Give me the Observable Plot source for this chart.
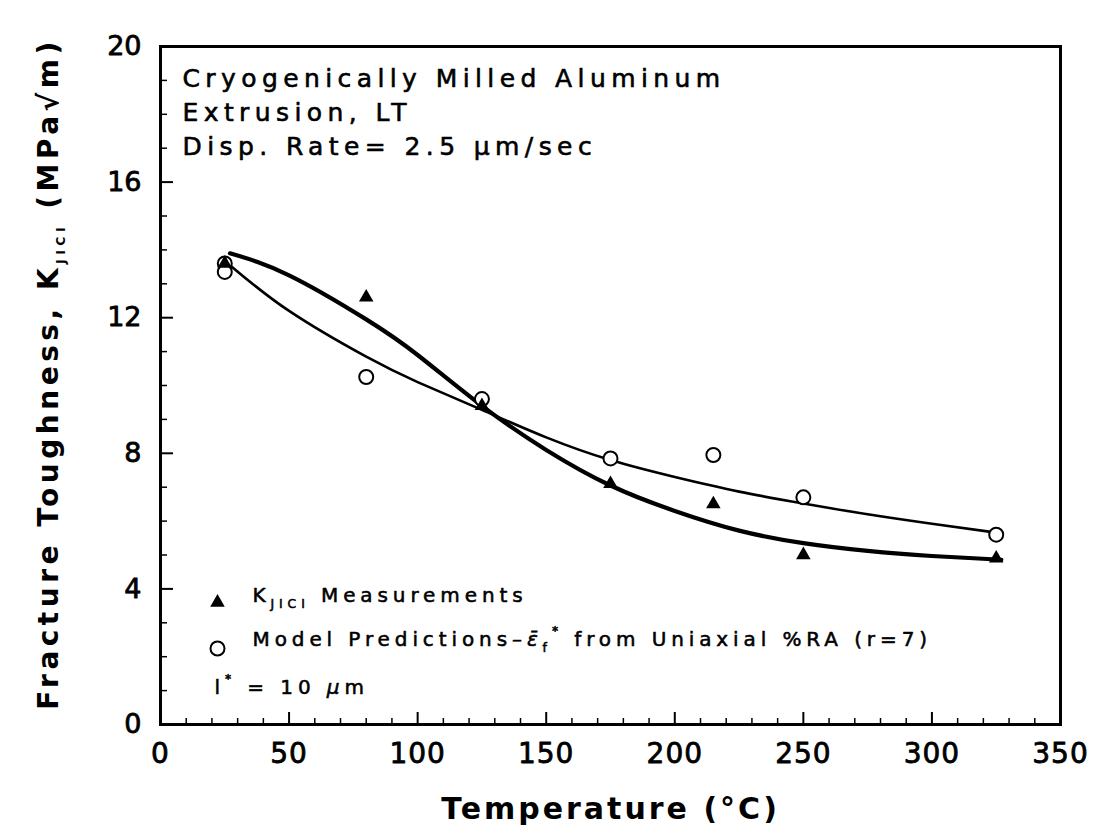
<!DOCTYPE html>
<html><head><meta charset="utf-8">
<script src="https://cdn.jsdelivr.net/npm/d3@7"></script>
<script src="https://cdn.jsdelivr.net/npm/@observablehq/plot@0.6"></script>
<style>body{margin:0;background:#fff}</style>
</head><body><div id="chart"></div>
<script>
// ---- data ----
const measT = [25, 80, 125, 175, 215, 250, 325];
const measK = [13.6, 12.6, 9.4, 7.1, 6.5, 5.0, 4.9];
const modelT = [25, 25, 80, 125, 175, 215, 250, 325];
const modelK = [13.6, 13.35, 10.25, 9.6, 7.85, 7.95, 6.7, 5.6];
const fitMeasT = [27, 50, 80, 100, 125, 150, 175, 200, 225, 250, 275, 300, 327];
const fitMeasK = [13.9, 13.25, 11.95, 10.9, 9.4, 8.1, 7.05, 6.3, 5.72, 5.35, 5.12, 4.97, 4.86];
const fitModelT = [27, 50, 80, 100, 125, 150, 175, 200, 225, 250, 275, 300, 325];
const fitModelK = [13.55, 12.2, 10.85, 10.1, 9.28, 8.47, 7.8, 7.3, 6.87, 6.52, 6.2, 5.92, 5.66];
const xTicks = [0, 50, 100, 150, 200, 250, 300, 350];
const yTicks = [0, 4, 8, 12, 16, 20];
const xMinor = [10,20,30,40,60,70,80,90,110,120,130,140,160,170,180,190,210,220,230,240,260,270,280,290,310,320,330,340];
const yMinor = [1,2,3,5,6,7,9,10,11,13,14,15,17,18,19];
const notes = ["Cryogenically Milled Aluminum", "Extrusion, LT", "Disp. Rate= 2.5 μm/sec"];
const xLabel = "Temperature (°C)";
const yLabel = "Fracture Toughness, KJICI (MPa√m)";
const legendMeas = "KJICI Measurements";
const legendModel = "Model Predictions–ε̄f* from Uniaxial %RA (r=7)";
const legendL = "l* = 10 μm";

const W = 1103, H = 837;
const mL = 160, mR = 43, mT = 46, mB = 113;
const innerW = W - mL - mR, innerH = H - mT - mB;
const font = "DejaVu Sans";

const meas = measT.map((t, i) => ({t, k: measK[i]}));
const model = modelT.map((t, i) => ({t, k: modelK[i]}));
const fitMeas = fitMeasT.map((t, i) => ({t, k: fitMeasK[i]}));
const fitModel = fitModelT.map((t, i) => ({t, k: fitModelK[i]}));

const plot = Plot.plot({
  width: W, height: H,
  marginLeft: mL, marginRight: mR, marginTop: mT, marginBottom: mB,
  style: {fontFamily: font, background: "#fff", color: "#000"},
  x: {domain: [0, 350], label: null},
  y: {domain: [0, 20], label: null},
  marks: [
    // inward ticks
    Plot.tickX(xTicks, {x: d => d, insetTop: innerH - 12, strokeWidth: 2}),
    Plot.tickX(xMinor, {x: d => d, insetTop: innerH - 6, strokeWidth: 1.5}),
    Plot.tickY(yTicks, {y: d => d, insetRight: innerW - 13, strokeWidth: 2}),
    Plot.tickY(yMinor, {y: d => d, insetRight: innerW - 7, strokeWidth: 1.5}),
    Plot.axisX({ticks: xTicks, label: null, tickSize: 0, tickPadding: 19, fontSize: 28, tickFormat: d => d}),
    Plot.axisY({ticks: yTicks, label: null, tickSize: 0, tickPadding: 19, fontSize: 27, tickFormat: d => d}),
    Plot.frame({strokeWidth: 3}),
    // fitted curves
    Plot.line(fitMeas, {x: "t", y: "k", curve: "natural", strokeWidth: 4.2}),
    Plot.line(fitModel, {x: "t", y: "k", curve: "natural", strokeWidth: 2.6}),
    // data points
    Plot.dot(model, {x: "t", y: "k", r: 7, stroke: "black", strokeWidth: 2, fill: "white"}),
    Plot.dot(meas, {x: "t", y: "k", symbol: "triangle", r: 5.4, fill: "black", stroke: "none"}),
    // annotations
    Plot.text([notes.join("\n")], {frameAnchor: "top-left", text: d => d, textAnchor: "start", lineAnchor: "top", dx: 22, dy: 16, lineHeight: 1.36, fontSize: 25}),
    // legend
    Plot.dot([legendMeas], {frameAnchor: "bottom-left", dx: 57, dy: -122, symbol: "triangle", r: 5.4, fill: "black", stroke: "none"}),
    Plot.dot([legendModel], {frameAnchor: "bottom-left", dx: 57, dy: -76, r: 7, stroke: "black", strokeWidth: 2, fill: "white"}),
    Plot.text([legendMeas], {frameAnchor: "bottom-left", text: d => d, textAnchor: "start", dx: 92, dy: -123, fontSize: 20}),
    Plot.text([legendModel], {frameAnchor: "bottom-left", text: d => d, textAnchor: "start", dx: 92, dy: -79, fontSize: 20}),
    Plot.text([legendL], {frameAnchor: "bottom-left", text: d => d, textAnchor: "start", dx: 54, dy: -31, fontSize: 20}),
    // axis titles
    Plot.text([xLabel], {frameAnchor: "bottom", text: d => d, dy: 94, fontSize: 30, fontWeight: "bold"}),
    Plot.text([yLabel], {frameAnchor: "left", text: d => d, textAnchor: "middle", rotate: -90, dx: -111, dy: -12, fontSize: 28, fontWeight: "bold"})
  ]
});

document.getElementById("chart").appendChild(plot);

// rich text (subscripts / superscripts), letter spacing, medium weight
function findText(plain) {
  return d3.select(plot).selectAll("text").filter(function () { return this.textContent === plain; });
}
function richify(plain, parts) {
  findText(plain).each(function () {
    const t = d3.select(this);
    const fs = parseFloat(t.attr("font-size")) || 20;
    t.text("");
    let cur = 0;
    parts.forEach(([s, mode, extra]) => {
      const target = mode === "sub" ? 0.32 : mode === "sup" ? -0.55 : 0;
      const ts = t.append("tspan").text(s);
      const d = (target - cur) * fs;
      if (d) ts.attr("dy", d.toFixed(1));
      if (mode !== "normal") ts.attr("font-size", (fs * 0.62).toFixed(1));
      if (extra) ts.attr("font-style", extra);
      cur = target;
    });
  });
}
function medium(sel, w) { sel.attr("stroke", "black").attr("stroke-width", w).attr("paint-order", "fill").attr("stroke-linejoin", "round"); }
medium(findText(notes.join("")).attr("letter-spacing", "5.4px"), 0.6);
findText(xLabel).attr("letter-spacing", "3px");
findText(yLabel).attr("letter-spacing", "4.5px");
[legendMeas, legendModel, legendL].forEach(s => medium(findText(s).attr("letter-spacing", "4.9px"), 0.55));
medium(d3.select(plot).selectAll('g[aria-label="x-axis tick label"] text').attr("letter-spacing", "1px"), 0.8);
medium(d3.select(plot).selectAll('g[aria-label="y-axis tick label"] text'), 0.8);
richify(yLabel, [["Fracture Toughness, K", "normal"], ["JICI", "sub"], [" (MPa√m)", "normal"]]);
richify(legendMeas, [["K", "normal"], ["JICI", "sub"], [" Measurements", "normal"]]);
richify(legendModel, [["Model Predictions–", "normal"], ["ε̄", "normal", "italic"], ["f", "sub"], ["*", "sup"], [" from Uniaxial %RA (r=7)", "normal"]]);
richify(legendL, [["l", "normal"], ["*", "sup"], [" = 10 ", "normal"], ["μ", "normal", "italic"], ["m", "normal"]]);
</script>
</body></html>
